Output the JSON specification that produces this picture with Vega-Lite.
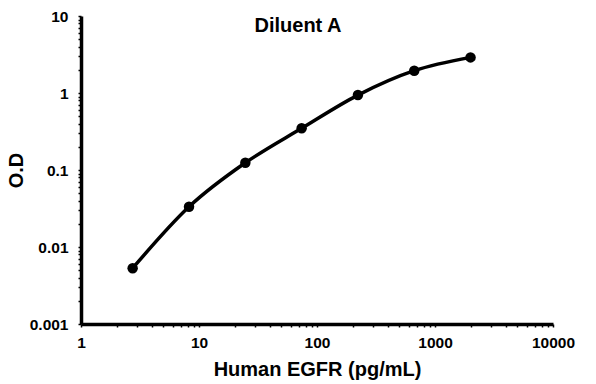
{
  "$schema": "https://vega.github.io/schema/vega-lite/v6.json",
  "width": 472,
  "height": 308,
  "autosize": "none",
  "padding": {"left": 81, "top": 16, "right": 43, "bottom": 60},
  "background": "white",
  "title": {
    "text": "Diluent A",
    "font": "Liberation Sans",
    "fontSize": 20,
    "fontWeight": "bold",
    "color": "black",
    "anchor": "middle",
    "baseline": "middle",
    "offset": 0,
    "dx": -19,
    "dy": 37
  },
  "data": {
    "values": [
      {"conc": 2.74, "od": 0.0053},
      {"conc": 8.23, "od": 0.0333},
      {"conc": 24.7, "od": 0.124},
      {"conc": 74.1, "od": 0.348},
      {"conc": 222.2, "od": 0.94},
      {"conc": 666.7, "od": 1.95},
      {"conc": 2000, "od": 2.9}
    ]
  },
  "config": {
    "view": {"stroke": null},
    "axis": {
      "grid": false,
      "domainColor": "black",
      "domainWidth": 3.5,
      "tickColor": "black",
      "tickWidth": 1.5,
      "tickSize": 3,
      "labelFont": "Liberation Sans",
      "labelFontSize": 15.5,
      "labelFontWeight": "bold",
      "labelColor": "black",
      "titleFont": "Liberation Sans",
      "titleFontSize": 20,
      "titleFontWeight": "bold",
      "titleColor": "black",
      "labelOverlap": false,
      "labelFlush": false,
      "labelBound": false
    }
  },
  "layer": [
    {
      "mark": {"type": "line", "color": "black", "strokeWidth": 3.5, "interpolate": "monotone"},
      "encoding": {
        "x": {
          "field": "conc",
          "type": "quantitative",
          "scale": {"type": "log", "domain": [1, 10000], "nice": false},
          "axis": {
            "title": "Human EGFR (pg/mL)",
            "values": [1,2,3,4,5,6,7,8,9,10,20,30,40,50,60,70,80,90,100,200,300,400,500,600,700,800,900,1000,2000,3000,4000,5000,6000,7000,8000,9000,10000],
            "labelExpr": "indexof([1,10,100,1000,10000], datum.value) >= 0 ? format(datum.value, 'd') : ''",
            "labelPadding": 8,
            "titlePadding": 9
          }
        },
        "y": {
          "field": "od",
          "type": "quantitative",
          "scale": {"type": "log", "domain": [0.001, 10], "nice": false},
          "axis": {
            "title": "O.D",
            "values": [0.001,0.002,0.003,0.004,0.005,0.006,0.007,0.008,0.009,0.01,0.02,0.03,0.04,0.05,0.06,0.07,0.08,0.09,0.1,0.2,0.3,0.4,0.5,0.6,0.7,0.8,0.9,1,2,3,4,5,6,7,8,9,10],
            "labelExpr": "indexof([0.001,0.01,0.1,1,10], datum.value) >= 0 ? format(datum.value, '~g') : ''",
            "labelPadding": 10,
            "titlePadding": 3
          }
        }
      }
    },
    {
      "mark": {"type": "point", "filled": true, "color": "black", "size": 110, "opacity": 1},
      "encoding": {
        "x": {"field": "conc", "type": "quantitative"},
        "y": {"field": "od", "type": "quantitative"}
      }
    }
  ]
}
